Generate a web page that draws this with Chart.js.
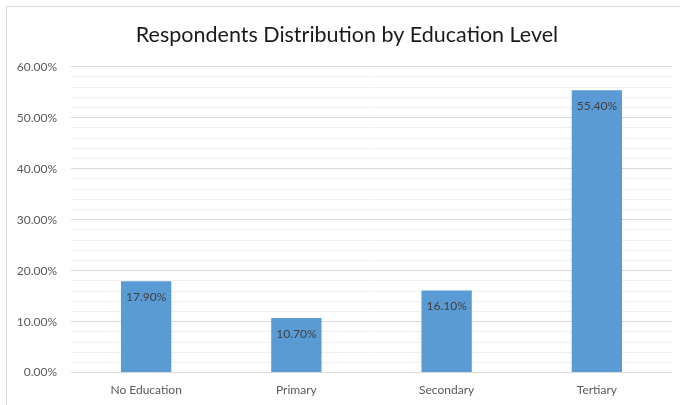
<!DOCTYPE html>
<html>
<head>
<meta charset="utf-8">
<script src="https://cdn.jsdelivr.net/npm/chart.js@4"></script>
<style>
  body { margin: 0; background: #fff; }
  .frame {
    position: absolute; left: 6px; top: 6px; width: 680px; height: 405px;
    border-left: 1px solid #d9d9d9; border-top: 1px solid #d9d9d9;
  }
  canvas { position: absolute; left: 0; top: 0; }
</style>
</head>
<body>
<div class="frame"></div>
<canvas id="chart" width="680" height="405"></canvas>
<script>
const categories = ["No Education", "Primary", "Secondary", "Tertiary"];
const shares = [17.9, 10.7, 16.1, 55.4];
const yMax = 60;

const barLabels = {
  id: "barLabels",
  afterDatasetsDraw(chart) {
    const ctx = chart.ctx;
    const meta = chart.getDatasetMeta(0);
    ctx.save();
    ctx.font = "12px Lato";
    ctx.fillStyle = "#404040";
    ctx.textAlign = "center";
    ctx.textBaseline = "middle";
    meta.data.forEach((bar, i) => {
      ctx.fillText(shares[i].toFixed(2) + "%", bar.x, bar.y + 16);
    });
    ctx.restore();
  },
};

// nudge the title a bit right, like the original
const titleShift = {
  id: "titleShift",
  afterLayout(chart) {
    const t = chart.titleBlock;
    if (t) {
      t.left += 11;
      t.right += 11;
    }
  },
};

new Chart(document.getElementById("chart"), {
  type: "bar",
  data: {
    labels: categories,
    datasets: [
      {
        data: shares,
        backgroundColor: "#5b9bd5",
        barPercentage: 0.335,
        categoryPercentage: 1,
      },
    ],
  },
  options: {
    responsive: false,
    animation: false,
    layout: { padding: { left: 0, right: 8, top: 21, bottom: 6 } },
    plugins: {
      legend: { display: false },
      tooltip: { enabled: false },
      title: {
        display: true,
        text: "Respondents Distribution by Education Level",
        color: "#1a1a1a",
        font: { family: "Lato", size: 21.5, weight: "normal" },
        padding: { top: 1, bottom: 19 },
      },
    },
    scales: {
      x: {
        grid: { display: false },
        border: { display: false },
        ticks: {
          color: "#595959",
          font: { family: "Lato", size: 12 },
          padding: 2,
        },
      },
      y: {
        min: 0,
        max: yMax,
        afterFit: (scale) => {
          scale.width = 71;
        },
        border: { display: false },
        grid: {
          drawTicks: false,
          color: (c) => (c.tick.value % 10 === 0 ? "#d9d9d9" : "#f0f0f0"),
        },
        ticks: {
          stepSize: 2,
          autoSkip: false,
          padding: 14,
          color: "#595959",
          font: { family: "Lato", size: 12 },
          callback: (v) => (v % 10 === 0 ? v.toFixed(2) + "%" : ""),
        },
      },
    },
  },
  plugins: [barLabels, titleShift],
});
</script>
</body>
</html>
